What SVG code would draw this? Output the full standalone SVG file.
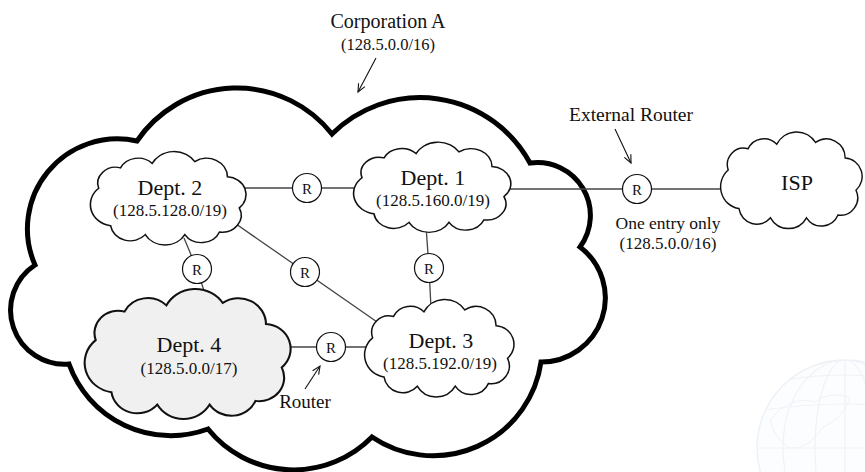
<svg xmlns="http://www.w3.org/2000/svg" width="865" height="472" viewBox="0 0 865 472">
  <style>
    text { font-family: "Liberation Serif", "Times New Roman", serif; fill: #111; text-anchor: middle; }
    .title { font-size: 20px; }
    .net { font-size: 16.5px; }
    .dept { font-size: 22px; }
    .sub { font-size: 17px; }
    .note { font-size: 17.5px; }
    .rlabel { font-size: 15px; }
    .cloud { stroke: #111; stroke-width: 1.6; fill: #fff; }
    .cloud.shaded { fill: #f0f0f0; }
    .link { stroke: #444; stroke-width: 1.3; fill: none; }
    .router { fill: #fff; stroke: #111; stroke-width: 1.2; }
    .pointer { stroke: #111; stroke-width: 1.1; fill: none; }
    .grid { fill: none; stroke: #dbe5ef; stroke-width: 1.2; }
  </style>
  <defs>
    <marker id="vhead" viewBox="-10 -6 12 12" refX="0" refY="0" markerWidth="12" markerHeight="12" markerUnits="userSpaceOnUse" orient="auto">
      <path d="M -8 -3.6 L 0 0 L -8 3.6" fill="none" stroke="#111" stroke-width="1.1"/>
    </marker>
    <!-- generic cloud outline, centred on 0,0, about 156 x 105 units -->
    <path id="cloudShape" d="M -72 -12 A 18 18 0 0 1 -50 -35 A 20 20 0 0 1 -18 -40 A 25 25 0 0 1 25 -42 A 21 21 0 0 1 58 -25 A 20 20 0 0 1 70 10 A 19 19 0 0 1 50 37 A 20 20 0 0 1 15 40 A 23 23 0 0 1 -25 40 A 20 20 0 0 1 -60 30 A 24 24 0 0 1 -72 -12 Z"/>
    <clipPath id="globeClip"><circle cx="845" cy="448" r="88"/></clipPath>
  </defs>

  <rect width="865" height="472" fill="#fff"/>

  <!-- faint globe in the lower right corner -->
  <g id="globe" opacity="0.45">
    <circle cx="845" cy="448" r="88" fill="#fafbfd" stroke="#d6e0eb" stroke-width="1.3"/>
    <g clip-path="url(#globeClip)">
      <ellipse class="grid" cx="845" cy="448" rx="30" ry="88"/>
      <ellipse class="grid" cx="845" cy="448" rx="62" ry="88"/>
      <line class="grid" x1="845" y1="360" x2="845" y2="536"/>
      <path class="grid" d="M 757 448 H 933 M 765 410 Q 845 398 925 410 M 785 380 Q 845 370 905 380 M 765 486 Q 845 498 925 486"/>
      <path d="M 770 420 Q 790 395 815 402 Q 830 390 850 398 Q 842 420 822 428 Q 808 450 790 448 Q 775 440 770 420 Z" fill="none" stroke="#dbe5ef" stroke-width="1"/>
    </g>
  </g>

  <!-- outer corporate network -->
  <g id="corporation">
    <path d="M 35 265 A 90 90 0 0 1 137 141 A 121 121 0 0 1 332 134 A 125 125 0 0 1 530 163 A 53 53 0 0 1 580 247 A 64 64 0 0 1 541 362 A 109 109 0 0 1 372 437 A 110 110 0 0 1 208 429 A 108 108 0 0 1 69 364 A 54 54 0 0 1 35 265 Z" fill="#fff" stroke="#000" stroke-width="5" stroke-linejoin="miter"/>
    <text class="title" x="388" y="28">Corporation A</text>
    <text class="net" x="388" y="50">(128.5.0.0/16)</text>
  </g>

  <!-- links between networks and routers -->
  <g id="connectors">
    <path class="link" d="M 238 188 H 362"/>
    <path class="link" d="M 505 189 H 728"/>
    <path class="link" d="M 184 238 L 197 269 L 206 297"/>
    <path class="link" stroke-width="1.1" d="M 226 217 L 380 324"/>
    <path class="link" d="M 426 226 L 429 268 L 431 308"/>
    <path class="link" d="M 284 347 H 372"/>
    <path class="pointer" marker-end="url(#vhead)" d="M 376 58 L 358 92"/>
    <path class="pointer" marker-end="url(#vhead)" d="M 615 129 L 631 163"/>
    <path class="pointer" marker-end="url(#vhead)" d="M 305 389 L 320 366"/>
  </g>

  <g id="dept2">
    <use href="#cloudShape" class="cloud" transform="translate(170 199) scale(0.99 0.89)" vector-effect="non-scaling-stroke"/>
    <text class="dept" x="170" y="195">Dept. 2</text>
    <text class="sub" x="170" y="216">(128.5.128.0/19)</text>
  </g>

  <g id="dept1">
    <use href="#cloudShape" class="cloud" transform="translate(434 188) scale(1.0 0.86)" vector-effect="non-scaling-stroke"/>
    <text class="dept" x="433" y="185">Dept. 1</text>
    <text class="sub" x="433" y="206">(128.5.160.0/19)</text>
  </g>

  <g id="dept3">
    <use href="#cloudShape" class="cloud" transform="translate(441 349) scale(0.95 0.93)" vector-effect="non-scaling-stroke"/>
    <text class="dept" x="441" y="348">Dept. 3</text>
    <text class="sub" x="440" y="369">(128.5.192.0/19)</text>
  </g>

  <g id="dept4">
    <use href="#cloudShape" class="cloud shaded" transform="translate(190 355) scale(1.31 1.24)" vector-effect="non-scaling-stroke"/>
    <text class="dept" x="189" y="352">Dept. 4</text>
    <text class="sub" x="189" y="374">(128.5.0.0/17)</text>
  </g>

  <g id="isp">
    <use href="#cloudShape" class="cloud" transform="translate(793 181) scale(0.9 0.92)" vector-effect="non-scaling-stroke"/>
    <text class="dept" x="797" y="190">ISP</text>
  </g>

  <g id="router-d2-d1">
    <circle class="router" cx="307" cy="188" r="14.5"/>
    <text class="rlabel" x="307" y="193.5">R</text>
  </g>
  <g id="router-d2-d4">
    <circle class="router" cx="197" cy="269" r="14.5"/>
    <text class="rlabel" x="197" y="274.5">R</text>
  </g>
  <g id="router-d2-d3">
    <circle class="router" cx="305" cy="272" r="14.5"/>
    <text class="rlabel" x="305" y="277.5">R</text>
  </g>
  <g id="router-d1-d3">
    <circle class="router" cx="429" cy="268" r="14.5"/>
    <text class="rlabel" x="429" y="273.5">R</text>
  </g>
  <g id="router-d4-d3">
    <circle class="router" cx="331" cy="347" r="14.5"/>
    <text class="rlabel" x="331" y="352.5">R</text>
  </g>
  <g id="router-external">
    <circle class="router" cx="637" cy="189" r="14.5"/>
    <text class="rlabel" x="637" y="194.5">R</text>
  </g>

  <g id="labels">
    <text class="note" x="631" y="121" style="font-size:19.5px">External Router</text>
    <text class="note" x="668" y="229">One entry only</text>
    <text class="sub" x="668" y="249">(128.5.0.0/16)</text>
    <text class="note" x="305" y="408" style="font-size:19px">Router</text>
  </g>
</svg>
